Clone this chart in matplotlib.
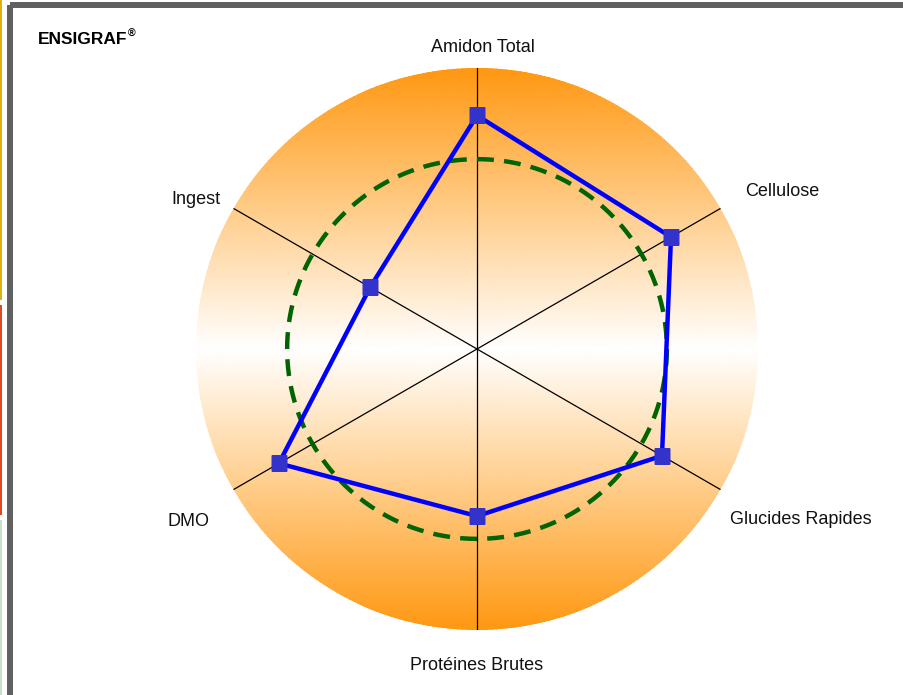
import numpy as np
import matplotlib
matplotlib.use("Agg")
import matplotlib.pyplot as plt
from matplotlib.colors import LinearSegmentedColormap
from matplotlib.patches import Rectangle

# ---- data ----
categories = ["Amidon Total", "Cellulose", "Glucides Rapides", "Protéines Brutes", "DMO", "Ingest"]
values = [123, 118, 112.5, 88, 120.5, 65]   # % of reference
reference = 100
rmax = 148
title = "ENSIGRAF"

# label placement in figure pixels (x, y from top) and alignments
label_pos = [(483, 47), (745, 192), (730, 520), (477, 665), (189, 521), (196, 200)]
label_ha = ["center", "left", "left", "center", "center", "center"]

W, H = 904, 695
fig = plt.figure(figsize=(W / 100, H / 100), dpi=100)
fig.patch.set_facecolor("white")

# background axes in pixel coordinates
bg = fig.add_axes([0, 0, 1, 1])
bg.set_xlim(0, W)
bg.set_ylim(H, 0)
bg.axis("off")

# frame
bg.add_patch(Rectangle((10, 4.5), 1000, 1000, fill=False, edgecolor="#606060", lw=4.3))
# thin coloured strip at left edge
bg.add_patch(Rectangle((0, 0), 1.6, 300, color="#e0b010", lw=0))
bg.add_patch(Rectangle((0, 305), 1.6, 210, color="#e04a20", lw=0))
bg.add_patch(Rectangle((0, 520), 1.6, 175, color="#c8e0c8", lw=0))

font = "Liberation Sans"
bg.text(38, 44, title, fontsize=12.5, fontweight="bold", family=font, ha="left", va="baseline")
bg.text(128, 37, "®", fontsize=7.5, fontweight="bold", family=font, ha="left", va="baseline")

for lab, (x, y), ha in zip(categories, label_pos, label_ha):
    bg.text(x, y, lab, fontsize=13, family=font, ha=ha, va="center", color="#111111")

# polar axes
cx, cy, R = 477, 349, 281
ax = fig.add_axes([(cx - R) / W, (H - cy - R) / H, 2 * R / W, 2 * R / H], projection="polar")
ax.set_theta_zero_location("N")
ax.set_theta_direction(-1)
ax.set_ylim(0, rmax)
ax.patch.set_alpha(0)
ax.grid(False)
ax.set_xticks([])
ax.set_yticks([])
ax.spines["polar"].set_visible(False)

# gradient background (vertical, orange at top/bottom, white at middle)
th = np.linspace(0, 2 * np.pi, 361)
rr = np.linspace(0, rmax, 120)
T, RR = np.meshgrid(th, rr)
C = np.abs(RR * np.cos(T)) / rmax
cmap = LinearSegmentedColormap.from_list("wo", ["#ffffff", "#ffcc88", "#ff9812"], N=256)
ax.pcolormesh(T, RR, C, cmap=cmap, vmin=0, vmax=1, shading="gouraud", zorder=0, rasterized=True)

# spokes
angles = np.deg2rad(np.arange(len(categories)) * 360 / len(categories))
for a in angles:
    ax.plot([a, a], [0, rmax], color="black", lw=0.9, zorder=1)

# reference dashed circle
ax.plot(th, np.full_like(th, reference), color="#006400", lw=3.2, dashes=(3.8, 2.3), zorder=2)

# data polygon
a_closed = np.append(angles, angles[0])
v_closed = np.append(values, values[0])
ax.plot(a_closed, v_closed, color="#0000ff", lw=3.2, zorder=3, solid_joinstyle="miter")
ax.plot(angles, values, ls="none", marker="s", markersize=12, markerfacecolor="#3333cc",
        markeredgecolor="none", zorder=4)

fig.savefig("out.png", dpi=100)
